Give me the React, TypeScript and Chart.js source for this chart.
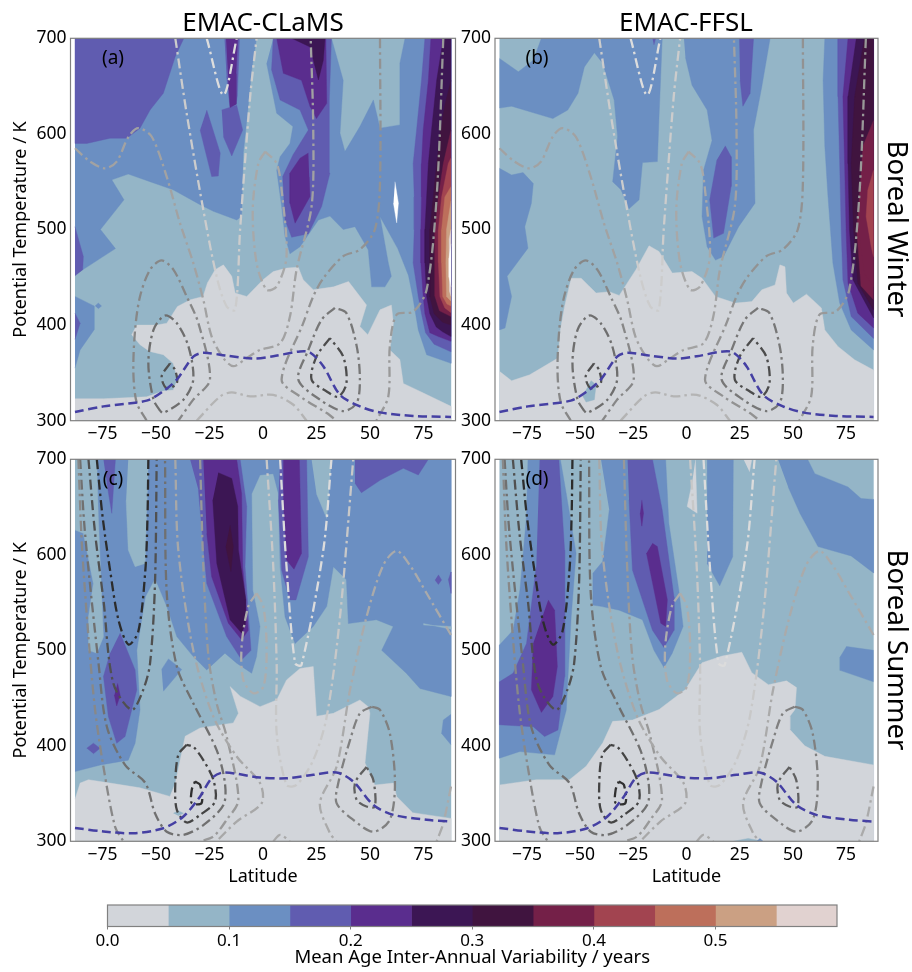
import React, { useEffect, useRef } from "react";
import { Chart, registerables } from "chart.js";

Chart.register(...registerables);

type Pt = [number, number];

const COLUMN_TITLES = ["EMAC-CLaMS", "EMAC-FFSL"];
const ROW_TITLES = ["Boreal Winter", "Boreal Summer"];
const PANEL_TAGS = ["(a)", "(b)", "(c)", "(d)"];
const Y_TITLE = "Potential Temperature / K";
const X_TITLE = "Latitude";
const BAR_TITLE = "Mean Age Inter-Annual Variability / years";

const LEVEL_COLORS = ["#d2d5da", "#94b5c7", "#6b8fc2", "#605cb0", "#5a2d8e", "#3c1654", "#40143f", "#742048", "#a24450", "#bd6f5b", "#cba083", "#e1d2d0", "#ffffff"];
const LEVEL_WIDTHS = [0.05, 0.05, 0.05, 0.05, 0.05, 0.05, 0.05, 0.05, 0.05, 0.05, 0.05, 0.05];

const BASE: Pt[] = [[-87.9, 300], [87.9, 300], [87.9, 700], [-87.9, 700]];

/* ---------- panel (a) ---------- */
const A_GRAY: Pt[] = [[-87.9, 323], [-74.6, 323], [-54.4, 325], [-46.6, 331], [-42, 332], [-40, 343], [-42, 360], [-46.6, 369], [-53, 372.5], [-57.5, 379.5], [-61.4, 390], [-59, 400], [-49.7, 400], [-45, 402], [-40, 419.5], [-34, 426.5], [-28, 430], [-26, 444], [-22.4, 458], [-18.5, 463], [-14.6, 451], [-13, 433.5], [-7.6, 430], [0, 447.5], [4.8, 456], [11, 459.6], [16.5, 460.6], [18.8, 447.5], [23.5, 437], [33, 440], [40, 445.6], [48.4, 421], [45.3, 398.6], [49, 390], [54.7, 416], [60, 421], [61, 402], [59.3, 374], [64, 364], [65.6, 339], [75, 329], [87.9, 315], [87.9, 300], [-87.9, 300]];
const A_L2_WEST: Pt[] = [[-87.9, 700], [-3, 700], [-5.3, 667], [-6.9, 628.6], [-9.2, 580], [-10, 513.6], [-12.3, 510], [-23.2, 519], [-29.4, 526], [-42, 541.5], [-52.8, 550], [-63, 558], [-70.7, 552], [-65, 531], [-76, 500], [-69, 480], [-87.9, 452.6]];
const A_L2_LOW: Pt[] = [[-87.9, 430], [-79, 420], [-79, 395], [-85.5, 374], [-87.9, 355]];
const A_L2_SPOT: Pt[] = [[-78.5, 420], [-77, 423], [-75.5, 420], [-77, 417]];
const A_L2_EAST: Pt[] = [[4.8, 700], [32, 700], [37.5, 656], [36, 600.7], [38.3, 581.5], [45.3, 607.7], [51.6, 635.5], [54.7, 606], [64, 609.4], [64, 674], [66.4, 700], [87.9, 700], [87.9, 360], [76.5, 369], [72.6, 395], [70, 430], [68, 452], [63, 480], [54.7, 513.6], [58.6, 465], [60, 451], [57, 440], [50.8, 440], [49.2, 478.7], [43, 503], [37.5, 500], [31.3, 514], [25.9, 510], [17.3, 482], [12.6, 474.6], [10.3, 492.7], [8.7, 524], [6.4, 562], [8, 576], [12.6, 590], [14, 607.7], [6.4, 621.6], [1.7, 674]];
const A_WHITE_SPOT: Pt[] = [[61.7, 550], [63.3, 527.5], [62.5, 507], [61, 527.5]];
const A_L3_TOP: Pt[] = [[-37, 700], [-41, 681], [-46.6, 642.5], [-52.8, 625], [-57.5, 606], [-63.7, 595.5], [-71.5, 595.5], [-82.4, 590], [-87.9, 590], [-87.9, 700]];
const A_L3_STRIP: Pt[] = [[-18, 700], [-11, 700], [-12, 640], [-12.6, 631], [-15.4, 627.5], [-17, 660]];
const A_L3_DIAMOND: Pt[] = [[-26.3, 625], [-20, 580], [-20.9, 556], [-24, 555.4], [-29.4, 604]];
const A_L3_WEDGE: Pt[] = [[-19.3, 625], [-12.3, 630], [-9.5, 604], [-14.6, 577], [-18.5, 597]];
const A_L3_MID: Pt[] = [[4.8, 700], [4, 667], [8, 635.5], [17.3, 625], [21.2, 604], [14, 578], [9.2, 555.4], [10.3, 510], [13.4, 492], [21.2, 495.5], [27.4, 524], [31.3, 559], [31, 635.5], [32, 700]];
const A_L3_EDGE: Pt[] = [[-87.9, 503], [-84, 471.7], [-84.3, 458], [-87.9, 451.5]];
const A_L3_EDGE2: Pt[] = [[-87.9, 412.5], [-85.5, 402], [-87.9, 385]];
const A_L4_STRIP: Pt[] = [[-17.3, 700], [-11.8, 700], [-12.6, 663], [-12.6, 631], [-15.4, 627.5], [-16.2, 656.5]];
const A_L4_TOP: Pt[] = [[6.4, 700], [9.5, 663.4], [18, 656], [22, 628.6], [25, 616], [29.8, 632], [29.4, 700]];
const A_L4_LOW: Pt[] = [[21.2, 580], [17.3, 574.6], [12.6, 559], [12.6, 527.5], [15, 506.6], [22, 534.5], [21.6, 555]];
const A_L5_TOP: Pt[] = [[13.4, 700], [22, 691], [25.9, 656.4], [28.2, 677], [29, 700]];
const A_P3: Pt[] = [[75.7, 700], [74.1, 656], [71.8, 604], [70.2, 569], [70.7, 534], [70.7, 500], [70.2, 465], [72.6, 430], [74.1, 412], [76, 392], [80, 380], [87.9, 372], [87.9, 700]];
const A_P4: Pt[] = [[78.5, 700], [77.3, 656], [74.9, 604], [74.1, 569], [74.1, 534], [73.8, 500], [73.8, 465], [74.9, 430], [75.7, 412], [78, 392], [82, 388], [87.9, 383], [87.9, 700]];
const A_P5: Pt[] = [[84.3, 700], [81.2, 656], [78.8, 604], [77.3, 569], [76.5, 534], [75.7, 500], [75.7, 465], [76.5, 430], [78, 412], [81, 398], [84, 393], [87.9, 388], [87.9, 700]];
const A_P6: Pt[] = [[87.9, 656], [85, 630], [83, 604], [81.2, 569], [79.6, 534], [78, 500], [78, 465], [78, 430], [80, 412], [84, 403], [87.9, 400]];
const A_P7: Pt[] = [[87.9, 604], [84.3, 569], [82, 534], [80.4, 500], [80.4, 465], [80.4, 430], [82.5, 415], [87.9, 409]];
const A_P8: Pt[] = [[87.9, 575], [86.6, 569], [83.5, 534], [82, 500], [82, 465], [82.7, 430], [85, 418], [87.9, 413]];
const A_P9: Pt[] = [[87.9, 545], [85, 534], [83.5, 500], [83.5, 465], [84, 430], [86, 422], [87.9, 420]];
const A_P10: Pt[] = [[87.9, 530], [85.8, 500], [85.5, 465], [85.8, 430], [87.9, 425]];
const A_P11: Pt[] = [[87.9, 500], [87, 490], [87, 465], [87.4, 435], [87.9, 430]];
const A_P12: Pt[] = [[87.9, 485], [87, 470], [87, 450], [87.9, 440]];
const PANEL_A_REGIONS = [A_GRAY, A_L2_WEST, A_L2_LOW, A_L2_SPOT, A_L2_EAST, A_WHITE_SPOT, A_L3_TOP, A_L3_STRIP, A_L3_DIAMOND, A_L3_WEDGE, A_L3_MID, A_L3_EDGE, A_L3_EDGE2, A_L4_STRIP, A_L4_TOP, A_L4_LOW, A_L5_TOP, A_P3, A_P4, A_P5, A_P6, A_P7, A_P8, A_P9, A_P10, A_P11, A_P12];
const PANEL_A_LEVELS = [0, 2, 2, 2, 2, 12, 3, 3, 3, 3, 3, 3, 3, 4, 4, 4, 5, 3, 4, 5, 6, 7, 8, 9, 10, 11, 12];

/* ---------- panel (b) ---------- */
const B_GRAY: Pt[] = [[-87.9, 351.6], [-82.2, 341.8], [-73.7, 348], [-60.4, 365.5], [-59.3, 395], [-57.3, 419.5], [-54.2, 449], [-49.5, 449], [-42.5, 433.5], [-36.3, 435], [-31.6, 431], [-23.8, 458], [-17.6, 483], [-12.9, 477], [-6.7, 454.4], [2.6, 456], [7.3, 449], [13.6, 430], [22.9, 423], [30.7, 424.6], [35.4, 437], [41.6, 442], [43.9, 463], [46.3, 461], [47, 433.5], [50.2, 423], [56.4, 432.4], [63.4, 418], [65, 395], [71.2, 377.7], [79, 363.7], [87.9, 353], [87.9, 300], [-87.9, 300]];
const B_ISLAND: Pt[] = [[-44.9, 342], [-42.5, 337.5], [-43.3, 322], [-47.2, 319.5], [-48.8, 325.8]];
const B_L2_TOP: Pt[] = [[-87.9, 679], [-79, 665], [-72, 677], [-68.2, 700], [-11.4, 700], [-12.9, 618], [-13.7, 571], [-20.7, 570], [-22.3, 531], [-27, 521.6], [-30.8, 541.5], [-34.7, 550], [-32.4, 597], [-34, 635.5], [-39.4, 674], [-43.3, 685], [-48, 670], [-51, 642.5], [-55.8, 625], [-62.8, 616], [-82.2, 629], [-87.9, 627]];
const B_L2_LEFT: Pt[] = [[-87.9, 564], [-82.2, 557], [-76.8, 559.5], [-72, 548], [-72.9, 527.5], [-76, 503], [-74.5, 480.5], [-84.3, 451], [-82.2, 430], [-85.3, 397], [-87.9, 395]];
const B_L2_MID: Pt[] = [[-1.2, 700], [39.3, 700], [35.4, 649.5], [31.5, 604], [32.2, 527.5], [24.5, 503], [17.4, 471.8], [13.6, 468], [9.7, 482], [7.3, 513.6], [8, 562], [12, 593], [9.7, 625], [2.6, 651], [-0.5, 680]];
const B_L3_TINY: Pt[] = [[-16, 700], [-14.5, 700], [-15.3, 693]];
const B_L3_TOP: Pt[] = [[24.8, 700], [31.5, 700], [29.9, 642.5], [26.5, 629], [25.2, 656]];
const B_L3_LOW: Pt[] = [[18.2, 587.5], [21, 576], [21, 545], [17.4, 496], [12.8, 491], [10.9, 531], [14.3, 573]];
const B_P2: Pt[] = [[65, 700], [64.2, 656], [65, 587], [66.5, 534.5], [68.8, 465], [72, 423], [77.4, 395], [87.9, 374], [87.9, 700]];
const B_P3: Pt[] = [[71.2, 700], [71.2, 639], [72, 569], [72.7, 500], [73.5, 447.5], [77.4, 409], [87.9, 386], [87.9, 700]];
const B_P4: Pt[] = [[75.9, 700], [73.5, 639], [74.3, 569], [75, 500], [75.9, 444], [80.5, 412.5], [87.9, 397], [87.9, 700]];
const B_P5: Pt[] = [[79.8, 700], [75.9, 639], [75.9, 569], [76.6, 500], [78.2, 447.5], [87.9, 407.5], [87.9, 700]];
const B_P6: Pt[] = [[83.6, 700], [79, 639], [77.4, 569], [78.5, 500], [80.5, 444], [87.9, 416], [87.9, 700]];
const B_P7: Pt[] = [[87.9, 614], [82.9, 587], [81.3, 534.5], [80, 500], [82, 441], [87.9, 426.5]];
const B_P8: Pt[] = [[87.9, 604], [84.4, 580], [82, 534], [81.3, 492.7], [83.6, 454], [87.9, 440]];
const B_P9: Pt[] = [[87.9, 562], [85.2, 541], [84.4, 513.6], [86.8, 482], [87.9, 471.5]];
const PANEL_B_REGIONS = [B_GRAY, B_ISLAND, B_L2_TOP, B_L2_LEFT, B_L2_MID, B_L3_TINY, B_L3_TOP, B_L3_LOW, B_P2, B_P3, B_P4, B_P5, B_P6, B_P7, B_P8, B_P9];
const PANEL_B_LEVELS = [0, 1, 2, 2, 2, 3, 3, 3, 2, 3, 4, 5, 6, 7, 7, 8];

/* ---------- panel (c) ---------- */
const C_L2_MAIN: Pt[] = [[-87.9, 700], [87.9, 700], [87.9, 451.6], [73.4, 460], [67, 476], [55.5, 500], [60.9, 525], [53, 532], [39.9, 528], [39, 574], [32.9, 587.6], [29.8, 546], [23.5, 525], [15, 507], [10.3, 535], [8, 587.6], [7.2, 664], [4.8, 685], [-1.4, 683.6], [-5.3, 664], [-4.8, 563], [-1.4, 525], [-3, 493.4], [-5.3, 476], [-12.3, 486.5], [-17.8, 497], [-26.3, 479.5], [-32.6, 493.4], [-40.3, 514.4], [-45, 546], [-50.5, 575.4], [-55, 556], [-59, 500], [-57.5, 437.6], [-59.8, 402.7], [-63, 385], [-76, 380], [-87.9, 373]];
const C_CUT_A: Pt[] = [[-87.9, 700], [-77.7, 700], [-77, 640], [-76, 587.6], [-74.6, 514], [-77.7, 497], [-81.6, 500], [-81.6, 535], [-79.3, 570], [-84, 622.5], [-87.9, 626]];
const C_CUT_B: Pt[] = [[-63, 700], [-53.6, 700], [-55.1, 591], [-59.8, 587.6], [-63, 605], [-64, 657]];
const C_CUT_C: Pt[] = [[22.7, 700], [32, 700], [29.8, 638], [25, 664]];
const C_CUT_E: Pt[] = [[75, 526.5], [87.9, 525], [87.9, 522], [75, 528]];
const C_L2_DIAMOND: Pt[] = [[-47.4, 480], [-44.2, 491], [-38, 480], [-46.6, 457]];
const C_L2_RIGHT: Pt[] = [[87.9, 433], [84.3, 427], [83.5, 413], [87.9, 401]];
const C_GRAY: Pt[] = [[-87.9, 344], [-85.5, 361], [-81.6, 364.5], [-71.5, 361], [-57.5, 356], [-43.5, 347], [-41, 361], [-36.4, 410], [-29.4, 418.7], [-13.9, 424], [-11.5, 434], [-15.4, 462], [-10.7, 452], [-1.4, 441], [6.4, 448], [11, 469], [17.3, 481], [23.5, 483], [25, 431], [32.9, 434], [45.3, 448], [49.2, 441], [50, 434], [47.7, 382], [52.3, 359], [61, 361], [62.5, 347], [70, 330], [87.9, 324], [87.9, 300], [-87.9, 300]];
const C_SPOT: Pt[] = [[-41.9, 329.4], [-39.6, 332], [-37.2, 329.4], [-39.6, 326.7]];
const C_L3_SLIVER: Pt[] = [[-74.6, 700], [-69, 700], [-70.7, 643.5], [-73, 675]];
const C_L3_LEFT: Pt[] = [[-66.8, 518], [-59.8, 479.5], [-59, 458.6], [-64.5, 409.7], [-68.4, 402.7], [-72.3, 430.6], [-74.6, 472.5], [-71.5, 497]];
const C_L3_DIAMOND: Pt[] = [[-82.4, 397.5], [-79.3, 402.7], [-76.2, 397.5], [-79.3, 391.6]];
const C_L4_TINY: Pt[] = [[-68, 465.5], [-66.8, 453], [-68.4, 441.8], [-69.5, 453]];
const C_L3_BIG: Pt[] = [[-34.1, 700], [-10.7, 700], [-7.6, 650.5], [-8.4, 587.6], [-5.6, 500], [-10, 490], [-17, 514.4], [-26.3, 570], [-27.6, 601.6], [-30.2, 668]];
const C_L4_BIG: Pt[] = [[-27.9, 700], [-12.3, 700], [-10, 664], [-9.5, 587.6], [-6.9, 521], [-10, 511], [-16.2, 528.4], [-24, 577], [-26.3, 622.5]];
const C_L5_BIG: Pt[] = [[-20.9, 686], [-14.6, 680], [-11.8, 650.5], [-11.5, 605], [-8, 553], [-8.4, 526.6], [-10, 518], [-15.4, 532], [-21.6, 591], [-23.5, 657.5]];
const C_L6_BIG: Pt[] = [[-15.4, 631], [-13.9, 608.6], [-15, 582.5], [-17.4, 608.6]];
const C_L3_COL: Pt[] = [[8, 700], [20.4, 700], [21.2, 598], [15.4, 552.8], [12.6, 552.8], [8.7, 584], [7.2, 657.5]];
const C_L4_COL: Pt[] = [[9.5, 700], [17, 700], [18, 601.6], [14.5, 585], [11, 594.6], [9.5, 657.5]];
const C_L3_TOPR: Pt[] = [[43, 700], [77.3, 700], [72.6, 683.6], [65.6, 690.6], [54.7, 678], [46, 665], [43, 675]];
const C_L3_DOT1: Pt[] = [[82, 579], [83.5, 573.7], [82, 569], [80.4, 573.7]];
const C_L3_DOT2: Pt[] = [[86.6, 573.7], [87.9, 582], [87.9, 559.6]];
const PANEL_C_REGIONS = [C_L2_MAIN, C_CUT_A, C_CUT_B, C_CUT_C, C_CUT_E, C_L2_DIAMOND, C_L2_RIGHT, C_GRAY, C_SPOT, C_L3_SLIVER, C_L3_LEFT, C_L3_DIAMOND, C_L4_TINY, C_L3_BIG, C_L4_BIG, C_L5_BIG, C_L6_BIG, C_L3_COL, C_L4_COL, C_L3_TOPR, C_L3_DOT1, C_L3_DOT2];
const PANEL_C_LEVELS = [2, 1, 1, 1, 1, 2, 2, 0, 1, 3, 3, 3, 4, 3, 4, 5, 6, 3, 4, 3, 3, 3];

/* ---------- panel (d) ---------- */
const D_GRAY: Pt[] = [[-87.9, 359], [-70.6, 364.5], [-55, 364.5], [-47.2, 378.5], [-39.4, 403], [-34.7, 425.6], [-25.4, 427], [-12.9, 438], [-0.5, 459], [7.3, 487], [16.7, 494], [26, 498], [30.7, 476.6], [38.5, 464], [47, 468], [51.7, 461], [51, 438], [48.6, 431], [48.6, 417], [55.6, 400], [65, 389], [87.9, 380], [87.9, 300], [-87.9, 300]];
const D_L2_LEFT: Pt[] = [[-74.5, 700], [-75.2, 640], [-78.3, 563], [-81.5, 521], [-87.9, 505.6], [-87.9, 387], [-78.3, 394], [-62, 390.5], [-56.5, 437.6], [-54.2, 535], [-51.9, 601.6], [-56.5, 664], [-59.3, 700]];
const D_L2_MID: Pt[] = [[-40.2, 700], [-9.8, 700], [-8.3, 633], [-3.6, 563], [-1.6, 525], [-6.7, 497], [-10.6, 482], [-15.3, 500], [-20.7, 532], [-31.6, 542], [-40.2, 546], [-44.4, 547.5], [-44, 580.7], [-39.4, 593], [-36.3, 647]];
const D_L2_TONGUE: Pt[] = [[9.7, 700], [22, 700], [21.7, 598], [15.6, 567.5], [9.7, 591]];
const D_L2_TOPR: Pt[] = [[43, 700], [56.9, 700], [60.3, 685], [75.9, 671], [82, 659], [87.9, 658], [87.9, 581], [77.4, 598.8], [61.8, 608.6], [53.3, 643.5], [47.8, 671]];
const D_L2_RIGHT: Pt[] = [[87.9, 500], [75.2, 504], [72.2, 493], [72.2, 479], [87.9, 467]];
const D_PALE_1: Pt[] = [[4.2, 700], [5, 643.5], [0.3, 650.5], [2.6, 675]];
const D_PALE_2: Pt[] = [[26.8, 700], [30.7, 700], [29.6, 687]];
const D_L3_LEFT: Pt[] = [[-69, 700], [-60, 700], [-57.3, 605], [-57.3, 472.5], [-60.4, 416.6], [-66.7, 409.7], [-72, 420], [-87.9, 422], [-87.9, 467], [-81.5, 476], [-75.2, 507], [-70.6, 587.6]];
const D_L4_LEFT: Pt[] = [[-65, 552.8], [-62, 542], [-60.7, 483], [-62.8, 451.6], [-68.2, 435], [-72.9, 458.6], [-72, 507.4]];
const D_L3_MID: Pt[] = [[-27.7, 700], [-16, 700], [-11.4, 647], [-5.9, 556], [-5.9, 521], [-10.6, 503], [-16, 521], [-25.4, 584], [-27, 657.5]];
const D_L4_TINY: Pt[] = [[-21, 657.5], [-20.2, 643.5], [-21, 630], [-21.8, 643.5]];
const D_L4_MID: Pt[] = [[-16, 612], [-13.7, 608.6], [-9, 553], [-9.8, 525], [-12.1, 528.4], [-18.8, 601.6]];
const D_BOTTOM_1: Pt[] = [[22, 300], [29, 303], [36, 300]];
const D_BOTTOM_2: Pt[] = [[33, 300], [34.5, 303], [36, 300]];
const PANEL_D_REGIONS = [D_GRAY, D_L2_LEFT, D_L2_MID, D_L2_TONGUE, D_L2_TOPR, D_L2_RIGHT, D_PALE_1, D_PALE_2, D_L3_LEFT, D_L4_LEFT, D_L3_MID, D_L4_TINY, D_L4_MID, D_BOTTOM_1, D_BOTTOM_2];
const PANEL_D_LEVELS = [0, 2, 2, 2, 2, 2, 0, 0, 3, 4, 3, 4, 4, 1, 2];

/* ---------- wind contours ---------- */
const W1: Pt[] = [[-87.9, 585], [-80.8, 571], [-73.8, 564], [-68.4, 571], [-62.9, 597], [-58.3, 606], [-52, 597], [-45, 555], [-38.8, 506.6], [-32.6, 465], [-27.9, 426.5], [-24, 388], [-18.5, 365.5], [-13.9, 357], [-7.6, 365.5], [-1.4, 374], [8, 381], [12.6, 409], [15.7, 458], [22.7, 524], [23.5, 604], [22.3, 700]];
const W2: Pt[] = [[54.7, 700], [54.7, 548.4], [52.3, 500], [45.3, 479], [37.5, 472], [28.2, 449], [23.5, 430], [18.8, 402], [8.7, 343], [17.3, 325.4], [29.8, 308], [34.4, 300]];
const W3: Pt[] = [[-54.4, 300], [-59, 318.5], [-60.6, 350], [-59.8, 395], [-57.5, 430], [-52.8, 458], [-47.4, 467.6], [-41.9, 458], [-35.7, 430], [-30.2, 402], [-24.8, 343], [-32.6, 322], [-39.6, 300]];
const W4: Pt[] = [[-48, 310], [-51.2, 322], [-53.6, 360], [-51.2, 395], [-45.8, 410], [-40.3, 402], [-34.9, 378], [-32.6, 343], [-37.2, 322], [-46.6, 308], [-48, 310]];
const W5: Pt[] = [[-43.5, 360], [-47.4, 346], [-45, 334], [-40.3, 339], [-41.1, 353], [-43.5, 360]];
const W6: Pt[] = [[33.6, 418], [27.4, 405.6], [21.2, 374], [16.5, 343], [26.6, 322], [37.5, 310], [43.8, 318.5], [45.3, 343], [43.8, 378], [39, 412.5], [33.6, 418]];
const W7: Pt[] = [[31.3, 386.4], [25, 367], [22.7, 343], [29.8, 330.6], [35.2, 325], [39, 339], [37.5, 367], [31.3, 386.4]];
const W8: Pt[] = [[84.3, 700], [81.2, 534.5], [76.5, 437], [70.2, 414], [62.5, 411], [59.3, 378], [58.6, 325.4], [53, 300]];
const W9: Pt[] = [[-41, 700], [-35.7, 621.6], [-27.9, 520.6], [-21.7, 451], [-17, 419.5], [-13, 416], [-10.7, 500], [-6, 639], [-3, 700]];
const W10: Pt[] = [[-26.3, 700], [-18.5, 640.8], [-12.3, 700]];
const W11: Pt[] = [[1, 581.5], [-2.2, 569], [-4.8, 520.6], [-3, 465], [1.7, 437], [6.4, 440.4], [11, 471.8], [8.7, 541.5], [6.4, 569], [1, 581.5]];
const W12: Pt[] = [[-31, 300], [-20, 325.4], [-14.6, 329.6], [-6, 325.4], [4.8, 327], [14.2, 316.7], [20.4, 300]];
const WINTER_LINES = [W1, W2, W3, W4, W5, W6, W7, W8, W9, W10, W11, W12];
const WINTER_GRAYS = ["#a2a2a2", "#929292", "#878787", "#6e6e6e", "#505050", "#777777", "#4c4c4c", "#999999", "#cccccc", "#dddddd", "#a8a8a8", "#b4b4b4"];

const S1: Pt[] = [[-77.7, 700], [-75, 640], [-71.5, 584], [-67.6, 532], [-62.9, 506], [-58.3, 519.6], [-55, 584], [-54, 640], [-53.6, 700]];
const S2: Pt[] = [[-81.6, 700], [-78.5, 622.5], [-74.6, 552.8], [-70, 465.5], [-61.4, 437.6], [-56, 458.6], [-52.8, 486.5], [-50.5, 570], [-49.7, 700]];
const S3: Pt[] = [[-85.5, 700], [-83.2, 622.5], [-76.9, 486.5], [-73, 420], [-64.5, 380], [-55, 361], [-50.5, 329.4], [-45, 310], [-37.2, 306.8], [-27.9, 317], [-18.5, 338], [-17.8, 361], [-21.7, 395.7], [-32.6, 444.6], [-40.3, 483], [-45, 559.7], [-45.8, 700]];
const S4: Pt[] = [[-86.3, 700], [-84.7, 612], [-81.6, 514], [-78.5, 437.6], [-74.6, 378], [-69.2, 315.5], [-65.3, 300]];
const S5: Pt[] = [[-35.7, 401], [-39.6, 390.5], [-41, 361], [-40.3, 333], [-35.7, 319.7], [-29.4, 327.7], [-22.4, 341.7], [-23.2, 364.3], [-27.9, 385], [-32.6, 399], [-35.7, 401]];
const S6: Pt[] = [[-31.8, 362.6], [-29.4, 359], [-28.7, 340], [-33.3, 340], [-33.3, 354], [-31.8, 362.6]];
const S7: Pt[] = [[-29.4, 700], [-27.9, 587.6], [-25.5, 493.4], [-21.7, 444.6], [-17, 409.7], [-11.5, 343.4], [-17, 322.5], [-23.2, 305], [-29.4, 300]];
const S8: Pt[] = [[-41, 700], [-39.6, 605], [-32.6, 500], [-23.2, 430.6], [-12.3, 388.8], [-1.4, 361], [-0.6, 340], [-12.3, 320.7], [-21.7, 300]];
const S9: Pt[] = [[-3, 559.7], [-6.9, 545.8], [-10, 504], [-9.2, 469], [-4.5, 455], [0.2, 462], [1.7, 500.4], [0.2, 545.8], [-3, 559.7]];
const S10: Pt[] = [[1.7, 700], [4.8, 587.6], [6.4, 483], [6.4, 413], [11, 359], [15.7, 359], [23.5, 385], [29.8, 430.6], [36, 535], [42.2, 700]];
const S11: Pt[] = [[8, 700], [11, 587.6], [15, 486.5], [18, 484.7], [28.2, 605], [32, 700]];
const S12: Pt[] = [[87.9, 516], [76.5, 559.7], [68.7, 589], [62.5, 604], [56.2, 589], [48.4, 535], [40.7, 458.6], [34.4, 378], [26.6, 340], [31.3, 308.5], [34.4, 300]];
const S13: Pt[] = [[50.8, 441], [45.3, 434], [40.7, 406], [35.2, 361], [34.4, 340], [42.2, 322.5], [51.6, 310], [59.3, 322.5], [61.7, 361], [59.3, 413], [54.7, 437.6], [50.8, 441]];
const S14: Pt[] = [[48.4, 378], [43, 361], [43.8, 343.4], [48.4, 336.4], [52.3, 336.4], [51.6, 364], [48.4, 378]];
const S15: Pt[] = [[87.9, 357.4], [84.3, 319], [81.2, 300]];
const S16: Pt[] = [[4.8, 300], [8, 306.8], [12.6, 300]];
const SUMMER_LINES = [S1, S2, S3, S4, S5, S6, S7, S8, S9, S10, S11, S12, S13, S14, S15, S16];
const SUMMER_GRAYS = ["#2c2c2c", "#505050", "#707070", "#888888", "#444444", "#303030", "#999999", "#a8a8a8", "#adadad", "#c8c8c8", "#dcdcdc", "#aaaaaa", "#808080", "#606060", "#aaaaaa", "#aaaaaa"];

const TROPOPAUSE_WINTER: Pt[] = [[-87.9, 309], [-74.6, 315], [-54.4, 321], [-46.6, 331], [-40.3, 343], [-32.6, 367], [-27.9, 371], [-17, 368], [-4.5, 365], [4.8, 367.4], [17.3, 372.5], [22, 371.4], [28.2, 357], [36, 327], [45.3, 315], [54.7, 308.7], [70.2, 305], [87.9, 304]];
const TROPOPAUSE_SUMMER: Pt[] = [[-87.9, 314], [-74.6, 310.3], [-60.6, 308.5], [-46.6, 313.7], [-37.2, 326], [-29.4, 347], [-24, 366], [-18.5, 372], [-1.4, 366.8], [11, 366], [23.5, 369.6], [34.4, 372], [42.2, 362.6], [51.6, 338], [61, 327.7], [76.5, 322.5], [87.9, 320.7]];

const FONT = "'Noto Sans', sans-serif";
const AXIS_GRAY = "#808080";

const frame = {
  id: "frame",
  afterDatasetsDraw(chart: any) {
    const { left, top, width, height } = chart.chartArea;
    const c = chart.ctx;
    c.save();
    c.strokeStyle = AXIS_GRAY;
    c.lineWidth = 1.2;
    c.strokeRect(left, top, width, height);
    c.restore();
  },
};

const toXY = (p: Pt[]) => p.map(([x, y]) => ({ x, y }));

function regionSet(points: Pt[], color: string) {
  return { data: toXY(points), fill: "shape", backgroundColor: color, borderColor: color, borderWidth: 0.4, pointRadius: 0, tension: 0 };
}

function panelDatasets(regions: Pt[][], levels: number[], lines: Pt[][], grays: string[], trop: Pt[]) {
  const list: any[] = [regionSet(BASE, LEVEL_COLORS[1])];
  regions.forEach((r, i) => list.push(regionSet(r, LEVEL_COLORS[levels[i]])));
  lines.forEach((l, i) =>
    list.push({ data: toXY(l), fill: false, borderColor: grays[i], borderWidth: 2.3, borderDash: [10, 4, 2.5, 4], pointRadius: 0, tension: 0.3 })
  );
  list.push({ data: toXY(trop), fill: false, borderColor: "#4540a3", borderWidth: 2.5, borderDash: [9, 4.5], pointRadius: 0, tension: 0.3 });
  return list.reverse();
}

const PANELS = [
  { regions: PANEL_A_REGIONS, levels: PANEL_A_LEVELS, lines: WINTER_LINES, grays: WINTER_GRAYS, trop: TROPOPAUSE_WINTER, left: 0, top: 20, w: 465, h: 428, yW: 70.5, xH: 27.3, padR: 9.5, yT: true, xT: false },
  { regions: PANEL_B_REGIONS, levels: PANEL_B_LEVELS, lines: WINTER_LINES, grays: WINTER_GRAYS, trop: TROPOPAUSE_WINTER, left: 450, top: 20, w: 440, h: 428, yW: 45, xH: 27.3, padR: 12, yT: false, xT: false },
  { regions: PANEL_C_REGIONS, levels: PANEL_C_LEVELS, lines: SUMMER_LINES, grays: SUMMER_GRAYS, trop: TROPOPAUSE_SUMMER, left: 0, top: 441, w: 465, h: 450, yW: 70.5, xH: 49.7, padR: 9.5, yT: true, xT: true },
  { regions: PANEL_D_REGIONS, levels: PANEL_D_LEVELS, lines: SUMMER_LINES, grays: SUMMER_GRAYS, trop: TROPOPAUSE_SUMMER, left: 450, top: 441, w: 440, h: 450, yW: 45, xH: 49.7, padR: 12, yT: false, xT: true },
];

const labelStyle = (x: number, y: number, size: number): React.CSSProperties => ({
  position: "absolute",
  left: x,
  top: y,
  transform: "translate(-50%,-50%)",
  font: `${size}px ${FONT}`,
  lineHeight: 1,
  color: "#000",
  whiteSpace: "nowrap",
});

export default function App() {
  const panelRefs = useRef<(HTMLCanvasElement | null)[]>([]);
  const barRef = useRef<HTMLCanvasElement | null>(null);

  useEffect(() => {
    const charts: Chart[] = [];
    PANELS.forEach((p, i) => {
      const canvas = panelRefs.current[i]!;
      charts.push(
        new Chart(canvas, {
          type: "line",
          data: { datasets: panelDatasets(p.regions, p.levels, p.lines, p.grays, p.trop) },
          plugins: [frame],
          options: {
            animation: false,
            responsive: false,
            events: [],
            layout: { padding: { top: 18.3, right: p.padR, left: 0, bottom: 0 } },
            plugins: { legend: { display: false }, tooltip: { enabled: false }, title: { display: false } },
            scales: {
              x: {
                type: "linear",
                min: -90,
                max: 90,
                grid: { display: false, drawTicks: false },
                border: { display: false },
                afterFit: (s: any) => { s.height = p.xH; },
                ticks: {
                  stepSize: 25,
                  includeBounds: false,
                  maxRotation: 0,
                  autoSkip: false,
                  padding: 3,
                  color: "#000",
                  font: { family: FONT, size: 17.5 },
                  callback: (v: any) => String(v).replace("-", "\u2212"),
                },
                title: { display: p.xT, text: X_TITLE, color: "#000", font: { family: FONT, size: 18 }, padding: { top: 0, bottom: 3 } },
              },
              y: {
                type: "linear",
                min: 300,
                max: 700,
                grid: { display: false, drawTicks: false },
                border: { display: false },
                afterFit: (s: any) => { s.width = p.yW; },
                ticks: { stepSize: 100, autoSkip: false, padding: 4, color: "#000", font: { family: FONT, size: 17.5 } },
                title: { display: p.yT, text: Y_TITLE, color: "#000", font: { family: FONT, size: 18 }, padding: { top: 10, bottom: 0 } },
              },
            },
          },
        } as any)
      );
    });

    charts.push(
      new Chart(barRef.current!, {
        type: "bar",
        data: {
          labels: [""],
          datasets: LEVEL_WIDTHS.map((v, i) => ({ data: [v], backgroundColor: LEVEL_COLORS[i], borderWidth: 0, barPercentage: 1, categoryPercentage: 1 })),
        },
        plugins: [frame],
        options: {
          indexAxis: "y",
          animation: false,
          responsive: false,
          events: [],
          layout: { padding: { left: 27.5, right: 33, top: 10, bottom: 0 } },
          plugins: { legend: { display: false }, tooltip: { enabled: false } },
          scales: {
            y: { stacked: true, display: false },
            x: {
              stacked: true,
              type: "linear",
              min: 0,
              max: 0.5999,
              border: { display: false },
              grid: { drawOnChartArea: false, drawTicks: true, tickLength: 3, tickColor: AXIS_GRAY },
              afterFit: (s: any) => { s.height = 45.5; },
              ticks: {
                stepSize: 0.1,
                includeBounds: false,
                maxRotation: 0,
                autoSkip: false,
                padding: 1,
                color: "#000",
                font: { family: FONT, size: 17 },
                callback: (v: any) => Number(v).toFixed(1),
              },
              title: { display: true, text: BAR_TITLE, color: "#000", font: { family: FONT, size: 18.5 }, padding: { top: 0, bottom: 3 } },
            },
          },
        },
      } as any)
    );
    return () => charts.forEach((c) => c.destroy());
  }, []);

  return (
    <div style={{ position: "fixed", left: 0, top: 0, width: 912, height: 972, background: "#fff", overflow: "hidden" }}>
      {PANELS.map((p, i) => (
        <canvas
          key={i}
          ref={(el) => { panelRefs.current[i] = el; }}
          width={p.w}
          height={p.h}
          style={{ position: "absolute", left: p.left, top: p.top, width: p.w, height: p.h }}
        />
      ))}
      <canvas ref={barRef} width={790} height={77} style={{ position: "absolute", left: 80, top: 895, width: 790, height: 77 }} />
      <div style={labelStyle(263, 21, 26)}>{COLUMN_TITLES[0]}</div>
      <div style={labelStyle(686, 21, 26)}>{COLUMN_TITLES[1]}</div>
      <div style={{ ...labelStyle(898, 229, 27.5), writingMode: "vertical-rl" }}>{ROW_TITLES[0]}</div>
      <div style={{ ...labelStyle(898, 650, 27.5), writingMode: "vertical-rl" }}>{ROW_TITLES[1]}</div>
      <div style={labelStyle(113, 57, 19)}>{PANEL_TAGS[0]}</div>
      <div style={labelStyle(537, 57, 19)}>{PANEL_TAGS[1]}</div>
      <div style={labelStyle(113, 478, 19)}>{PANEL_TAGS[2]}</div>
      <div style={labelStyle(537, 478, 19)}>{PANEL_TAGS[3]}</div>
    </div>
  );
}
